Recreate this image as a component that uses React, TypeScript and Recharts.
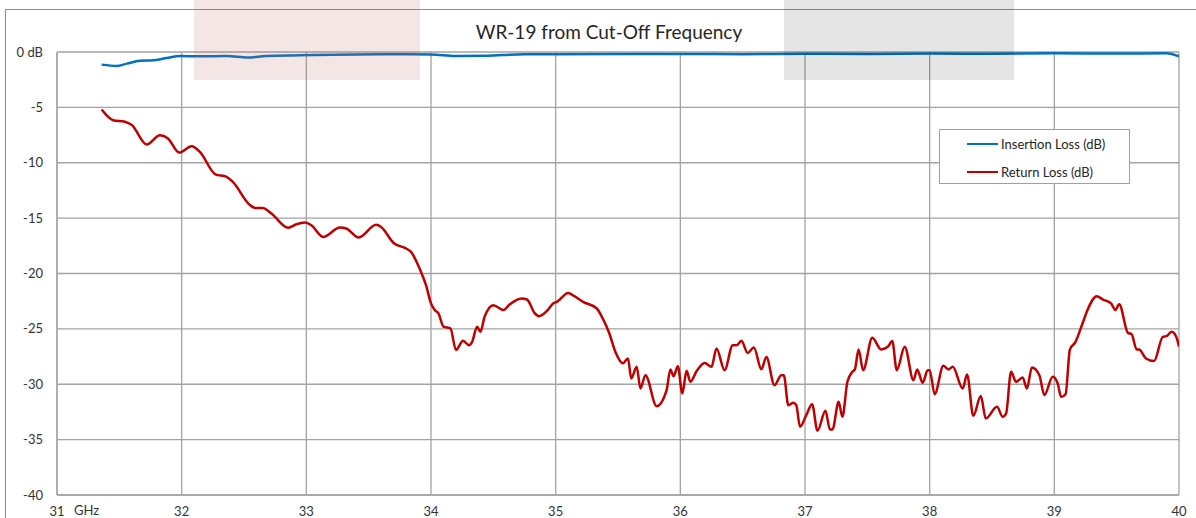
import React from "react";
import { LineChart, Line, XAxis, YAxis, CartesianGrid } from "recharts";

// frequency axis (GHz) and level axis (dB)
const freqTicks = [31, 32, 33, 34, 35, 36, 37, 38, 39, 40];
const dbTicks = [-40, -35, -30, -25, -20, -15, -10, -5, 0];

// Insertion loss
const ilFreq = [
  31.358, 31.48, 31.56, 31.665, 31.77, 31.88, 31.986, 32.146, 32.36, 32.53,
  32.68, 32.95, 33.21, 33.6, 34.0, 34.2, 34.45, 34.7, 35.0, 35.5, 36.0, 36.5,
  37.0, 37.5, 38.0, 38.5, 39.0, 39.5, 39.9, 40.0,
];
const ilDb = [
  -1.14, -1.26, -1.05, -0.8, -0.75, -0.54, -0.36, -0.39, -0.36, -0.5, -0.36,
  -0.3, -0.24, -0.2, -0.22, -0.35, -0.33, -0.22, -0.2, -0.18, -0.17, -0.2,
  -0.15, -0.17, -0.13, -0.16, -0.12, -0.14, -0.12, -0.4,
];

// Return loss
const rlFreq = [
  31.358, 31.45, 31.545, 31.6, 31.72, 31.826, 31.89, 31.98, 32.08, 32.146,
  32.27, 32.36, 32.41, 32.55, 32.59, 32.65, 32.72, 32.854, 32.92, 32.99,
  33.04, 33.135, 33.27, 33.32, 33.42, 33.56, 33.6, 33.7, 33.8, 33.84, 33.91,
  33.96, 34.0, 34.03, 34.06, 34.1, 34.156, 34.2, 34.257, 34.305, 34.33, 34.37,
  34.396, 34.43, 34.5, 34.58, 34.63, 34.685, 34.725, 34.77, 34.83, 34.866,
  34.94, 34.98, 35.01, 35.1, 35.15, 35.22, 35.33, 35.37, 35.43, 35.48, 35.54,
  35.58, 35.606, 35.65, 35.68, 35.72, 35.81, 35.89, 35.92, 35.946, 35.98,
  36.016, 36.05, 36.08, 36.13, 36.195, 36.25, 36.29, 36.355, 36.42, 36.453,
  36.49, 36.54, 36.59, 36.65, 36.69, 36.755, 36.81, 36.83, 36.866, 36.906,
  36.93, 36.96, 37.01, 37.057, 37.1, 37.164, 37.2, 37.22, 37.27, 37.3, 37.34,
  37.38, 37.4, 37.43, 37.466, 37.54, 37.61, 37.664, 37.7, 37.736, 37.8, 37.87,
  37.9, 37.944, 37.984, 38.0, 38.04, 38.11, 38.15, 38.185, 38.265, 38.3,
  38.35, 38.41, 38.45, 38.54, 38.586, 38.613, 38.653, 38.693, 38.746, 38.78,
  38.82, 38.88, 38.92, 38.987, 39.027, 39.054, 39.09, 39.125, 39.17, 39.226,
  39.266, 39.34, 39.39, 39.455, 39.49, 39.52, 39.59, 39.62, 39.66, 39.68,
  39.735, 39.8, 39.87, 39.9, 39.94, 39.98, 40.0,
];
const rlDb = [
  -5.2, -6.16, -6.3, -6.6, -8.36, -7.52, -7.8, -9.08, -8.51, -9.02, -11.04,
  -11.28, -11.73, -13.84, -14.08, -14.08, -14.59, -15.88, -15.55, -15.4,
  -15.64, -16.7, -15.85, -15.94, -16.75, -15.6, -15.8, -17.24, -17.74,
  -18.05, -19.6, -21.06, -22.7, -23.3, -23.6, -24.8, -24.96, -26.9, -26.08,
  -26.47, -26.17, -24.8, -25.27, -23.9, -22.86, -23.3, -22.8, -22.4, -22.26,
  -22.35, -23.55, -23.85, -23.25, -22.7, -22.56, -21.75, -22.05, -22.56,
  -23.16, -23.9, -25.4, -27.1, -28.1, -27.67, -29.48, -28.43, -30.38, -29.18,
  -31.98, -30.53, -28.66, -29.27, -28.37, -30.83, -28.79, -29.78, -28.82,
  -28.07, -28.43, -26.77, -28.73, -26.47, -26.47, -26.08, -27.17, -26.68,
  -28.65, -27.53, -30.08, -29.18, -29.18, -31.89, -31.68, -31.89, -33.84,
  -32.79, -31.8, -34.2, -32.4, -34.08, -34.08, -31.59, -32.94, -29.78,
  -28.88, -28.66, -26.86, -28.73, -25.81, -26.86, -26.62, -26.1, -28.73,
  -26.62, -29.63, -28.66, -29.87, -28.73, -28.73, -30.9, -28.34, -28.66,
  -28.43, -30.38, -29.11, -32.85, -31.07, -33.09, -32.04, -32.94, -32.64,
  -28.88, -29.78, -29.39, -30.38, -28.48, -29.18, -30.98, -29.33, -29.93,
  -31.14, -30.9, -26.86, -26.17, -24.51, -23.3, -22.05, -22.35, -22.7, -23.3,
  -22.77, -25.36, -25.48, -26.86, -26.86, -27.67, -27.9, -25.72, -25.66,
  -25.27, -25.78, -26.6,
];

const ilData = ilFreq.map((f, i) => ({ f, v: ilDb[i] }));
const rlData = rlFreq.map((f, i) => ({ f, v: rlDb[i] }));

const FONT = "Lato, 'Open Sans', sans-serif";
const BLUE = "#0070c0";
const RED = "#c00000";

const XTick = (props: any) => {
  const { x, y, payload } = props;
  return (
    <g>
      <text x={x} y={y + 16} dy="0.35em" textAnchor="middle" fontSize={13} fill="#333" fontFamily={FONT}>
        {payload.value}
      </text>
      {payload.value === 31 && (
        <text x={x + 17} y={y + 15} dy="0.35em" textAnchor="start" fontSize={13} fill="#333" fontFamily={FONT}>
          GHz
        </text>
      )}
    </g>
  );
};

const YTick = (props: any) => {
  const { x, y, payload } = props;
  return (
    <text x={x - 14} y={y} dy="0.35em" textAnchor="end" fontSize={13} fill="#333" fontFamily={FONT}>
      {payload.value === 0 ? "0 dB" : payload.value}
    </text>
  );
};

export default function App() {
  return (
    <div
      style={{
        position: "fixed",
        left: 0,
        top: 0,
        width: 1196,
        height: 518,
        overflow: "hidden",
        background: "#fff",
        fontFamily: FONT,
      }}
    >
      {/* chart area frame */}
      <div
        style={{
          position: "absolute",
          left: 5,
          top: 9,
          width: 1300,
          height: 600,
          border: "1px solid #8c8c8c",
        }}
      />
      <div style={{ position: "absolute", left: 0, top: 0 }}>
        <LineChart width={1196} height={518} margin={{ top: 52, right: 17, bottom: 0, left: 0 }}>
          <CartesianGrid stroke="#a3a3a3" strokeWidth={1.3} />
          <XAxis
            type="number"
            dataKey="f"
            domain={[31, 40]}
            ticks={freqTicks}
            allowDataOverflow
            height={23}
            axisLine={{ stroke: "#a3a3a3", strokeWidth: 1.3 }}
            tickLine={false}
            tickSize={0}
            tickMargin={0}
            tick={<XTick />}
            interval={0}
          />
          <YAxis
            type="number"
            domain={[-40, 0]}
            ticks={dbTicks}
            width={57}
            axisLine={{ stroke: "#a3a3a3", strokeWidth: 1.3 }}
            tickLine={false}
            tickSize={0}
            tickMargin={0}
            tick={<YTick />}
            interval={0}
          />
          <Line
            data={ilData}
            dataKey="v"
            type="monotone"
            stroke={BLUE}
            strokeWidth={2.5}
            dot={false}
            isAnimationActive={false}
          />
          <Line
            data={rlData}
            dataKey="v"
            type="monotone"
            stroke={RED}
            strokeWidth={2.5}
            dot={false}
            isAnimationActive={false}
          />
        </LineChart>
      </div>

      {/* title */}
      <div
        style={{
          position: "absolute",
          left: 409,
          width: 400,
          top: 21,
          height: 22,
          lineHeight: "22px",
          textAlign: "center",
          fontSize: 19,
          color: "#262626",
        }}
      >
        WR-19 from Cut-Off Frequency
      </div>

      {/* legend */}
      <div
        style={{
          position: "absolute",
          left: 939,
          top: 129,
          width: 189,
          height: 53,
          border: "1px solid #a0a0a0",
          background: "#fff",
          fontSize: 13,
          color: "#262626",
        }}
      >
        {[
          { name: "Insertion Loss (dB)", color: BLUE, top: 5 },
          { name: "Return Loss (dB)", color: RED, top: 33 },
        ].map((it) => (
          <div key={it.name} style={{ position: "absolute", left: 27, top: it.top, height: 18, display: "flex", alignItems: "center" }}>
            <div style={{ width: 31, height: 2.5, background: it.color }} />
            <span style={{ marginLeft: 3, whiteSpace: "nowrap" }}>{it.name}</span>
          </div>
        ))}
      </div>

      {/* highlight overlays */}
      <div style={{ position: "absolute", left: 194, top: 0, width: 226, height: 80, background: "rgba(190,100,100,0.16)", pointerEvents: "none" }} />
      <div style={{ position: "absolute", left: 784, top: 0, width: 230, height: 80, background: "rgba(0,0,0,0.1)", pointerEvents: "none" }} />
    </div>
  );
}
